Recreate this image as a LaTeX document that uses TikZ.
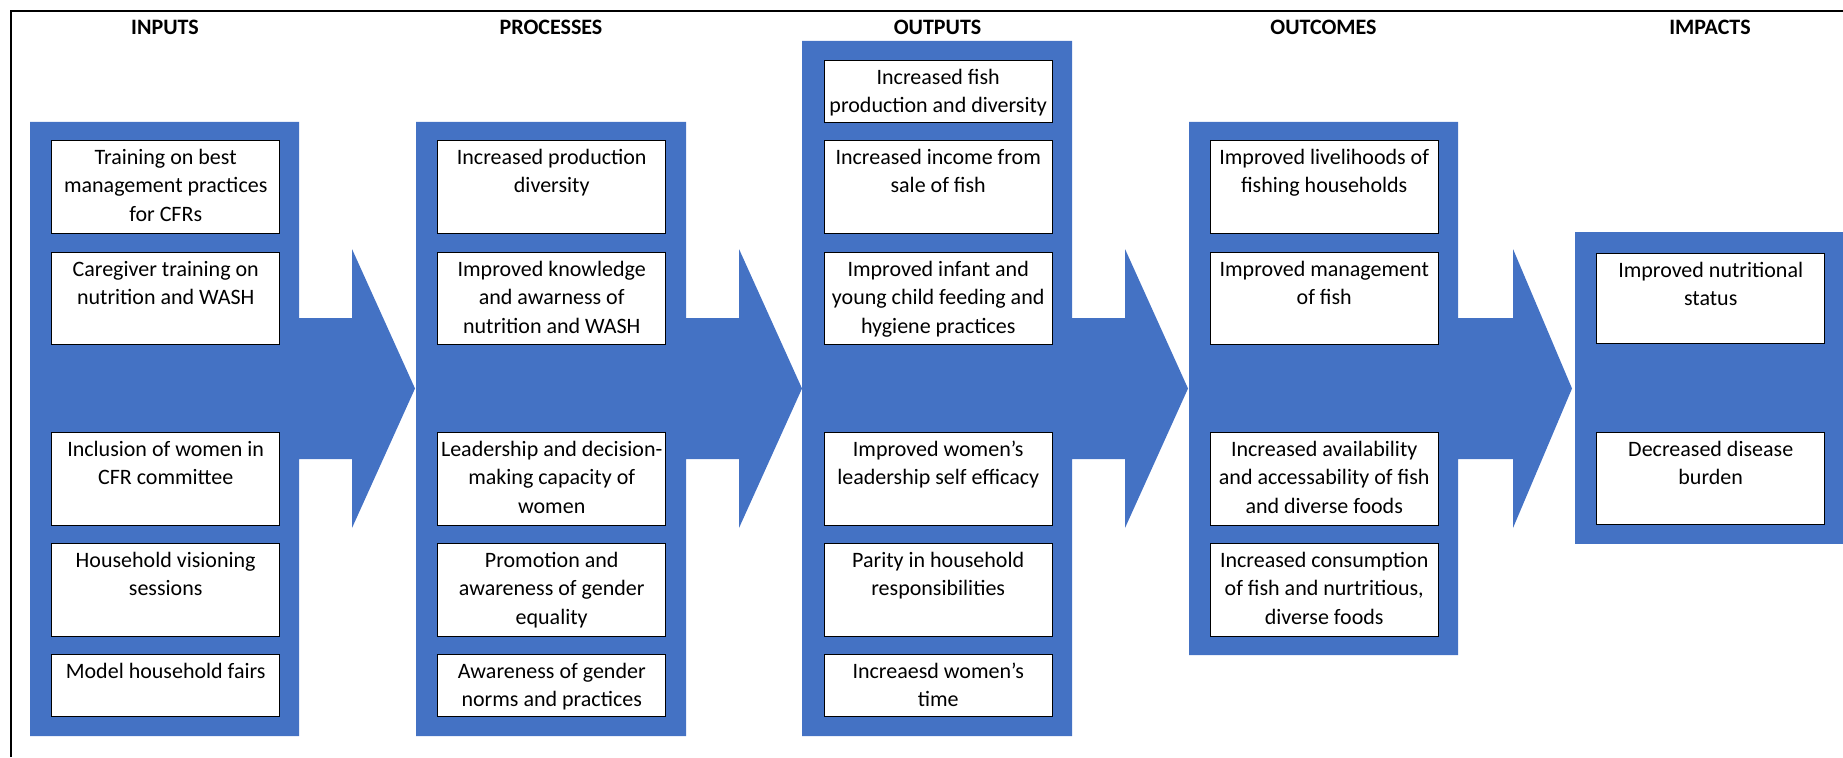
\documentclass[tikz,border=0pt]{standalone}
\usepackage{fontspec}
\setmainfont{Carlito}
\definecolor{cblue}{HTML}{4472C4}
\tikzset{
  wbox/.style={draw=black, fill=white, line width=1.4pt, inner sep=0pt, anchor=north west,
    font=\fontsize{22}{28.7}\selectfont},
  ttl/.style={font=\fontsize{22}{24}\selectfont\bfseries, inner sep=0pt},
  colfill/.style={fill=cblue}
}
\newcommand\wb[5]{\node[wbox] (#1) at (#2,#3) {\parbox[c][#4pt][t]{228pt}{\centering\rule{0pt}{23.5pt}#5}};}
\newcommand\colarrow[6]{\fill[colfill] (#1,#3) -- (#2,#3) -- (#2,318) -- (#5,318) -- (#5,249) -- (#6,388.5) -- (#5,528) -- (#5,459) -- (#2,459) -- (#2,#4) -- (#1,#4) -- cycle;}
\begin{document}
\begin{tikzpicture}[x=1pt,y=-1pt]
\useasboundingbox (0,0) rectangle (1843,757);
% frame
\draw[line width=2pt] (11,757) -- (11,11) -- (1843,11);
% titles
\node[ttl] (tin)  at (165,27)    {INPUTS};
\node[ttl] (tpr)  at (551,27)    {PROCESSES};
\node[ttl] (tout) at (937.5,27)  {OUTPUTS};
\node[ttl] (toc)  at (1323.5,27) {OUTCOMES};
\node[ttl] (tim)  at (1710,27)   {IMPACTS};
% blue columns with arrows
\colarrow{30}{299}{122}{736}{352}{415}
\colarrow{416}{686}{122}{736}{739}{802}
\colarrow{802}{1072}{41}{736}{1125}{1188}
\colarrow{1189}{1458}{122}{655}{1513}{1572}
\fill[colfill] (1575,232) rectangle (1843,544);
% inputs
\wb{in1}{51}{140}{93}{Training on best\\management practices\\for CFRs}
\wb{in2}{51}{252}{92}{Caregiver training on\\nutrition and WASH}
\wb{in3}{51}{432}{93}{Inclusion of women in\\CFR committee}
\wb{in4}{51}{543}{93}{Household visioning\\sessions}
\wb{in5}{51}{654}{62}{Model household fairs}
% processes
\wb{pr1}{437}{140}{93}{Increased production\\diversity}
\wb{pr2}{437}{252}{92}{Improved knowledge\\and awarness of\\nutrition and WASH}
\wb{pr3}{437}{432}{93}{\mbox{Leadership and decision-}\\making capacity of\\women}
\wb{pr4}{437}{543}{93}{Promotion and\\awareness of gender\\equality}
\wb{pr5}{437}{654}{62}{Awareness of gender\\norms and practices}
% outputs
\wb{ou0}{823.5}{60}{62}{Increased fish\\production and diversity}
\wb{ou1}{823.5}{140}{93}{Increased income from\\sale of fish}
\wb{ou2}{823.5}{252}{92}{Improved infant and\\young child feeding and\\hygiene practices}
\wb{ou3}{823.5}{432}{93}{Improved women's\\leadership self efficacy}
\wb{ou4}{823.5}{543}{93}{Parity in household\\responsibilities}
\wb{ou5}{823.5}{654}{62}{Increaesd women's\\time}
% outcomes
\wb{oc1}{1209.5}{140}{93}{Improved livelihoods of\\fishing households}
\wb{oc2}{1209.5}{252}{92}{Improved management\\of fish}
\wb{oc3}{1209.5}{432}{93}{Increased availability\\and accessability of fish\\and diverse foods}
\wb{oc4}{1209.5}{543}{93}{Increased consumption\\of fish and nurtritious,\\diverse foods}
% impacts
\wb{im1}{1596}{253}{90}{Improved nutritional\\status}
\wb{im2}{1596}{432}{92}{Decreased disease\\burden}
\end{tikzpicture}
\end{document}
